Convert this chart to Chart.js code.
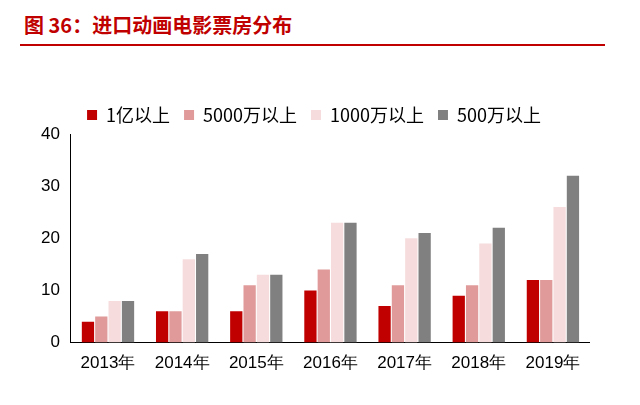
<!DOCTYPE html><html><head><meta charset="utf-8">
<script src="https://cdn.jsdelivr.net/npm/chart.js@4"></script>
<style>body{margin:0;width:640px;height:405px;background:#fff;font-family:"Noto Sans CJK SC";}
#t{position:absolute;left:24px;top:10px;color:#C00000;font-size:20px;font-weight:bold;}
#l{position:absolute;left:20px;top:44px;width:585px;border-top:2px solid #C00000;}
#w{position:absolute;left:38px;top:92px;width:552px;height:285px;}</style></head><body>
<div id="t">图 36：进口动画电影票房分布</div><div id="l"></div>
<div id="w"><canvas id="c"></canvas></div>
<script>
const categories=["2013年","2014年","2015年","2016年","2017年","2018年","2019年"];
const names=["1亿以上","5000万以上","1000万以上","500万以上"];
const s1=[4,6,6,10,7,9,12];
const s2=[5,6,11,14,11,11,12];
const s3=[8,16,13,23,20,19,26];
const s4=[8,17,13,23,21,22,32];
const colors=["#C00000","#E09A9A","#F6DCDC","#808080"];
new Chart(document.getElementById('c'),{type:'bar',data:{labels:categories,datasets:[s1,s2,s3,s4].map((d,i)=>({label:names[i],data:d,backgroundColor:colors[i]}))},
options:{responsive:true,maintainAspectRatio:false,animation:false,
datasets:{bar:{categoryPercentage:0.72,barPercentage:0.92}},
plugins:{legend:{labels:{boxWidth:10,boxHeight:10,font:{size:18,family:"Noto Sans CJK SC"},color:'#000',padding:14}}},
layout:{padding:{top:0}},
scales:{x:{grid:{display:false,drawTicks:true},border:{color:'#000'},ticks:{color:'#000',font:{size:17}}},
y:{min:0,max:40,ticks:{stepSize:10,color:'#000',font:{size:17}},grid:{display:false},border:{color:'#000'}}}}});
</script></body></html>
